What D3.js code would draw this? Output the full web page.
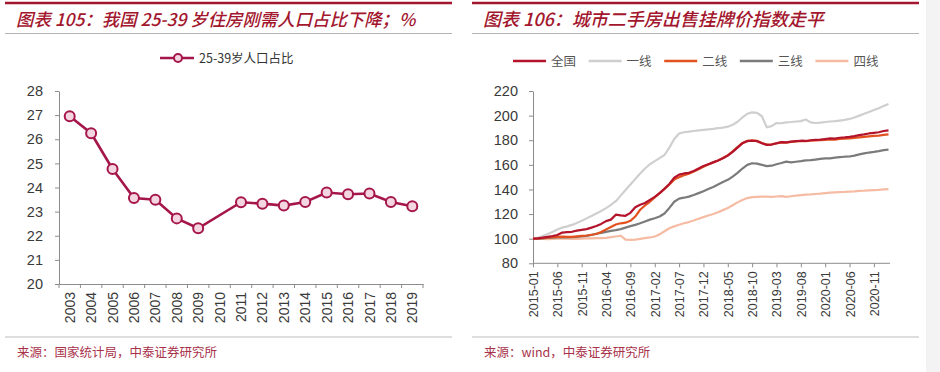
<!DOCTYPE html>
<html>
<head>
<meta charset="utf-8">
<script src="https://cdn.jsdelivr.net/npm/d3@7"></script>
<style>
  body { margin: 0; background: #fff; }
  svg { display: block; }
  .tick text { font-family: "Liberation Sans", Arial, sans-serif; fill: #3a3a3a; }
  .domain, .tick line { stroke: #8c8c8c; }
</style>
</head>
<body>
<div id="chart"></div>
<script>
// left chart: share of 25-39 age group (%), 2010 has no value
var years = ["2003","2004","2005","2006","2007","2008","2009","2010","2011",
             "2012","2013","2014","2015","2016","2017","2018","2019"];
var share = [26.95, 26.25, 24.77, 23.56, 23.49, 22.72, 22.31, null, 23.39,
             23.33, 23.25, 23.40, 23.79, 23.72, 23.75, 23.40, 23.22];
var shareTicks = [20, 21, 22, 23, 24, 25, 26, 27, 28];

// right chart: listing price index, monthly 2015-01 .. 2021-02
var monthTicks = ["2015-01","2015-06","2015-11","2016-04","2016-09","2017-02","2017-07",
                  "2017-12","2018-05","2018-10","2019-03","2019-08","2020-01","2020-06","2020-11"];
var priceTicks = [80, 100, 120, 140, 160, 180, 200, 220];
var seriesNames = ["全国", "一线", "二线", "三线", "四线"];

var natIdx = [100, 100.3, 100.8, 101.5, 102.2, 103, 105, 105.3, 105.6, 106.5,
  107.2, 107.8, 109, 110.3, 112, 114.3, 115.5, 119.5, 119, 118.6,
  121, 125.5, 127.5, 129, 131.5, 134, 137, 140.5, 144.5, 149.5,
  152, 153, 153.5, 155, 157, 159, 160.5, 162, 163.5, 165.3,
  167.5, 170.5, 174, 177.5, 179.2, 179.6, 179.2, 177.5, 176.2, 176.5,
  177.5, 178.5, 178.2, 178.8, 179.2, 179.6, 179.4, 180, 180.3, 180.5,
  181, 181.5, 181.3, 182, 182.3, 182.7, 183.3, 184.2, 184.8, 185.5,
  186, 186.5, 187.5, 188];
var tier1Idx = [100, 100.8, 102.2, 103.8, 105.5, 107.5, 109, 110, 111.2, 112.8,
  114.5, 116.5, 118.5, 120.5, 122.5, 124.8, 127.5, 130.5, 135, 139.5,
  144, 148.5, 153, 157, 160.5, 163, 165.5, 168, 174, 181,
  185.5, 186.5, 187, 187.5, 188, 188.4, 188.8, 189.2, 189.8, 190.3,
  191, 192.5, 195, 198.5, 201.5, 202.6, 202.2, 199.5, 190.5, 191.5,
  194, 193.8, 194.5, 194.8, 195.2, 195.5, 196.8, 194.5, 194, 194.3,
  194.8, 195.2, 195.5, 196, 196.5, 197.3, 198.5, 200, 201.5, 203,
  204.5, 206, 207.8, 209.5];
var tier2Idx = [100, 100.2, 100.5, 100.8, 101.2, 101.5, 101.6, 101.4, 101.5, 101.9,
  102.3, 102.6, 103.2, 103.8, 105.5, 107.5, 109.5, 111.5, 112.5, 113,
  114.5, 118, 123.5, 127, 130, 133.5, 137, 140.5, 144, 148,
  150, 151.5, 152.8, 154.5, 156.5, 158.5, 160.3, 162, 163.5, 165.5,
  167.8, 171, 174.5, 177.8, 179.5, 180, 179.5, 177.8, 176.5, 176.6,
  177.5, 178.3, 178, 178.6, 179, 179.3, 179.2, 179.6, 179.8, 180,
  180.3, 180.6, 180.5, 181, 181.2, 181.5, 181.9, 182.3, 182.7, 183.2,
  183.5, 183.8, 184.3, 184.8];
var tier3Idx = [100, 100.1, 100.3, 100.6, 100.9, 101.1, 101.2, 101.1, 101.3, 101.5,
  101.8, 102.3, 103, 104, 104.7, 105.5, 106.3, 107, 107.8, 109,
  110.2, 111.2, 112.5, 114, 115.5, 116.6, 118, 120.5, 125, 130,
  132.5, 133.3, 134.2, 135.5, 137, 138.6, 140.3, 142, 144, 146,
  147.8, 150.5, 153.5, 157, 160, 161.3, 161, 160, 159, 159.3,
  160.5, 161.5, 162.6, 162, 162.5, 163, 163.6, 163.8, 164.3, 164.8,
  165.3, 165.3, 165.8, 166.2, 166.6, 166.8, 167.5, 168.5, 169.3, 170,
  170.5, 171.2, 172, 172.3];
var tier4Idx = [100, 100, 99.8, 99.7, 99.8, 100, 100.2, 100, 99.8, 99.9,
  100, 100.2, 100.3, 100.5, 100.4, 100.6, 101.2, 101.8, 102.4, 99.3,
  99, 99.3, 99.8, 100.5, 101, 101.8, 103.5, 106, 108.5, 110,
  111.3, 112.5, 113.5, 114.8, 116.2, 117.5, 118.8, 120, 121.5, 123.2,
  125, 127.2, 129.5, 131.5, 133, 133.8, 134, 134.1, 134.2, 134,
  134.3, 134.6, 134, 134.5, 135, 135.4, 135.8, 136, 136.3, 136.6,
  137, 137.4, 137.6, 137.8, 138, 138.3, 138.5, 138.8, 139, 139.3,
  139.5, 139.7, 140, 140.2];

var width = 940, height = 372;
var cjk = "'Noto Sans CJK SC', sans-serif";
var darkRed = "#a3172e";
var seriesColors = ["#b3142c", "#cfcfcf", "#e2521f", "#7b7b7b", "#f5bca3"];

var svg = d3.select("#chart")
  .append("svg")
  .attr("width", width)
  .attr("height", height);

svg.append("rect").attr("width", width).attr("height", height).attr("fill", "#fff");
svg.append("rect").attr("x", 926).attr("width", 14).attr("height", height).attr("fill", "#f3f3f3");

// frame pieces: red top rule, title, grey rules, source note
function frame(x0, x1, title, source, fs) {
  svg.append("line")
    .attr("x1", x0).attr("x2", x1).attr("y1", 3).attr("y2", 3)
    .attr("stroke", darkRed).attr("stroke-width", 2.5);
  svg.append("text")
    .attr("x", x0 + 11).attr("y", 26)
    .attr("font-family", cjk).attr("font-style", "italic").attr("font-weight", 500)
    .attr("font-size", fs).attr("fill", darkRed)
    .text(title);
  svg.append("line")
    .attr("x1", x0).attr("x2", x1).attr("y1", 33.5).attr("y2", 33.5)
    .attr("stroke", "#b4b4b4").attr("stroke-width", 1);
  svg.append("line")
    .attr("x1", x0).attr("x2", x1).attr("y1", 337).attr("y2", 337)
    .attr("stroke", "#bdbdbd").attr("stroke-width", 1.2);
  svg.append("text")
    .attr("x", x0 + 12).attr("y", 357)
    .attr("font-family", cjk).attr("font-size", 12.5).attr("fill", "#a8324a")
    .text(source);
}

frame(5, 452, "图表 105：我国 25-39 岁住房刚需人口占比下降；%", "来源：国家统计局，中泰证券研究所", 17.4);
frame(472, 919, "图表 106：城市二手房出售挂牌价指数走平", "来源：wind，中泰证券研究所", 18);

// ---------- left chart ----------
var lineRed = "#a5164a";
var xL = d3.scaleBand().domain(years).range([59, 423]);
var yL = d3.scaleLinear().domain([20, 28]).range([284, 91]);

var gL = svg.append("g");

gL.append("g")
  .attr("transform", "translate(59,0)")
  .call(d3.axisLeft(yL).tickValues(shareTicks).tickSize(4).tickSizeOuter(0).tickPadding(12))
  .selectAll("text").attr("font-size", 14.5);

var xAxisL = gL.append("g")
  .attr("transform", "translate(0,284)")
  .call(d3.axisBottom(xL).tickSize(0).tickSizeOuter(0).tickPadding(0));
xAxisL.selectAll("text")
  .attr("font-size", 14)
  .attr("text-anchor", "end")
  .attr("transform", "rotate(-90)")
  .attr("x", -8).attr("y", 0).attr("dy", "0.36em");

// ticks sit between categories
xAxisL.selectAll(".sep")
  .data(years.concat(["end"]))
  .enter().append("line")
  .attr("class", "sep")
  .attr("x1", (d, i) => i < years.length ? xL(d) : xL.range()[1])
  .attr("x2", (d, i) => i < years.length ? xL(d) : xL.range()[1])
  .attr("y1", 0).attr("y2", 4)
  .attr("stroke", "#8c8c8c");

var pts = years.map((d, i) => ({ year: d, v: share[i] })).filter(d => d.v !== null);

gL.append("path")
  .datum(pts)
  .attr("fill", "none")
  .attr("stroke", lineRed)
  .attr("stroke-width", 2.6)
  .attr("d", d3.line()
    .x(d => xL(d.year) + xL.bandwidth() / 2)
    .y(d => yL(d.v)));

gL.selectAll(".dot")
  .data(pts)
  .enter().append("circle")
  .attr("class", "dot")
  .attr("cx", d => xL(d.year) + xL.bandwidth() / 2)
  .attr("cy", d => yL(d.v))
  .attr("r", 5)
  .attr("fill", "#f4d6e0")
  .attr("stroke", lineRed)
  .attr("stroke-width", 2);

// left legend
gL.append("line")
  .attr("x1", 160).attr("x2", 194).attr("y1", 58).attr("y2", 58)
  .attr("stroke", lineRed).attr("stroke-width", 2.6);
gL.append("circle")
  .attr("cx", 178).attr("cy", 58).attr("r", 4)
  .attr("fill", "#f4d6e0").attr("stroke", lineRed).attr("stroke-width", 2);
gL.append("text")
  .attr("x", 199).attr("y", 62.5)
  .attr("font-family", cjk).attr("font-size", 12.5).attr("fill", "#333")
  .text("25-39岁人口占比");

// ---------- right chart ----------
var months = d3.timeMonths(new Date(2015, 0, 1), new Date(2021, 2, 1)).map(d3.timeFormat("%Y-%m"));
var xR = d3.scalePoint().domain(months).range([533, 888.5]);
var yR = d3.scaleLinear().domain([80, 220]).range([263.3, 91]);

var gR = svg.append("g");

gR.append("g")
  .attr("transform", "translate(533,0)")
  .call(d3.axisLeft(yR).tickValues(priceTicks).tickSize(4).tickSizeOuter(0).tickPadding(11))
  .selectAll("text").attr("font-size", 14.5);

var xAxisR = gR.append("g")
  .attr("transform", "translate(0,263.3)")
  .call(d3.axisBottom(xR).tickValues(monthTicks).tickSize(4).tickSizeOuter(0));
xAxisR.select(".domain").attr("d", "M533,0H890");
xAxisR.selectAll("text")
  .attr("font-size", 12.5)
  .attr("text-anchor", "end")
  .attr("transform", "rotate(-90)")
  .attr("x", -8).attr("y", 0).attr("dy", "0.36em");

var seriesVals = [natIdx, tier1Idx, tier2Idx, tier3Idx, tier4Idx];
var lineR = d3.line()
  .x((d, i) => xR(months[i]))
  .y(d => yR(d));

// draw back to front so 全国 ends up on top
[4, 3, 1, 2, 0].forEach(function(k) {
  gR.append("path")
    .datum(seriesVals[k])
    .attr("fill", "none")
    .attr("stroke", seriesColors[k])
    .attr("stroke-width", 2.2)
    .attr("stroke-linejoin", "round")
    .attr("d", lineR);
});

// right legend
var legR = gR.append("g");
seriesNames.forEach(function(name, i) {
  var lx = 513 + i * 75.6;
  legR.append("line")
    .attr("x1", lx).attr("x2", lx + 33).attr("y1", 61).attr("y2", 61)
    .attr("stroke", seriesColors[i]).attr("stroke-width", 2.6);
  legR.append("text")
    .attr("x", lx + 38).attr("y", 65.5)
    .attr("font-family", cjk).attr("font-size", 12.5).attr("fill", "#555")
    .text(name);
});
</script>
</body>
</html>
